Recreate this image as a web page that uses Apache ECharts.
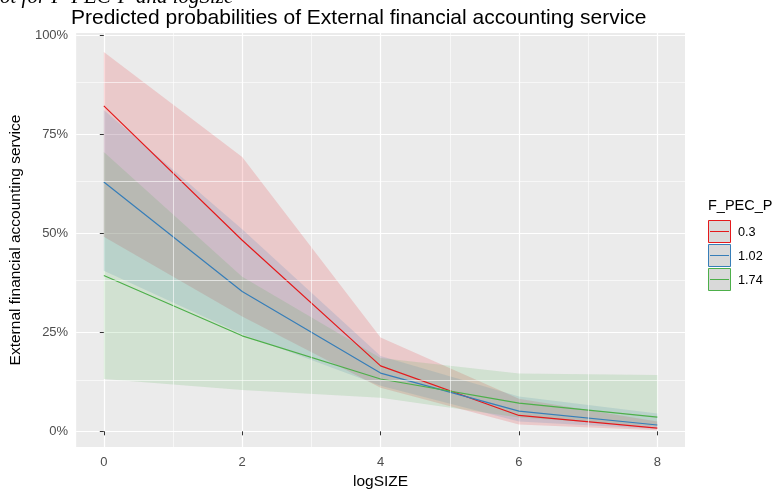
<!DOCTYPE html>
<html>
<head>
<meta charset="utf-8">
<script src="https://cdn.jsdelivr.net/npm/echarts@6/dist/echarts.min.js"></script>
<style>
html,body{margin:0;padding:0;background:#fff;overflow:hidden;}
#c{width:777px;height:495px;}
</style>
</head>
<body>
<div id="c"></div>
<script>
// ---- data ----
const logSIZE = [0, 2, 4, 6, 8];
const groups = ['0.3', '1.02', '1.74'];
const pred_03 = [0.821, 0.482, 0.165, 0.040, 0.008];
const low_03 = [0.491, 0.290, 0.110, 0.017, 0.003];
const high_03 = [0.957, 0.692, 0.237, 0.082, 0.025];
const pred_102 = [0.629, 0.353, 0.147, 0.051, 0.016];
const low_102 = [0.405, 0.245, 0.115, 0.025, 0.006];
const high_102 = [0.811, 0.510, 0.190, 0.088, 0.045];
const pred_174 = [0.393, 0.241, 0.132, 0.071, 0.036];
const low_174 = [0.132, 0.104, 0.085, 0.035, 0.012];
const high_174 = [0.705, 0.390, 0.185, 0.146, 0.142];
const yTicks = [0, 0.25, 0.5, 0.75, 1];
const yMinor = [0.125, 0.375, 0.625, 0.875];
const xTicks = [0, 2, 4, 6, 8];
const xMinor = [1, 3, 5, 7];

const preds = [pred_03, pred_102, pred_174];
const lows = [low_03, low_102, low_174];
const highs = [high_03, high_102, high_174];
const colors = ['#E41A1C', '#377EB8', '#4DAF4A'];
const fills = ['rgba(228,26,28,0.16)', 'rgba(55,126,184,0.16)', 'rgba(77,175,74,0.16)'];

const el = document.getElementById('c');
const chart = echarts.init(el, null, {renderer: 'canvas', width: 777, height: 495});
const FONT = 'Liberation Sans, Arial, sans-serif';

const series = [];
series.push({
  type: 'line', data: [], z: 1, silent: true,
  markLine: {
    silent: true, symbol: 'none', label: {show: false},
    lineStyle: {color: '#ffffff', width: 0.6, type: 'solid'},
    emphasis: {disabled: true},
    data: yMinor.map(v => ({yAxis: v})).concat(xMinor.map(v => ({xAxis: v})))
  }
});
groups.forEach((g, k) => {
  series.push({
    type: 'custom', name: g + ' ci', z: 2, silent: true,
    data: [[0, 0]], encode: {x: 0, y: 1},
    renderItem: function (params, api) {
      const pts = [];
      for (let i = 0; i < logSIZE.length; i++) pts.push(api.coord([logSIZE[i], highs[k][i]]));
      for (let i = logSIZE.length - 1; i >= 0; i--) pts.push(api.coord([logSIZE[i], lows[k][i]]));
      return {type: 'polygon', shape: {points: pts}, style: {fill: fills[k], stroke: null}};
    }
  });
});
groups.forEach((g, k) => {
  series.push({
    type: 'line', name: g, z: 3, silent: true, showSymbol: false, animation: false,
    data: logSIZE.map((x, i) => [x, preds[k][i]]),
    lineStyle: {color: colors[k], width: 1.2},
    itemStyle: {color: colors[k]}
  });
});

const lg = [];
lg.push({type: 'text', left: 708, top: 198, style: {text: 'F_PEC_P', font: '14.5px ' + FONT, fill: '#000'}});
groups.forEach((g, k) => {
  const y0 = 220 + k * 24;
  lg.push({type: 'rect', shape: {x: 708.5, y: y0 + 0.5, width: 22, height: 22}, style: {fill: '#D9D9D9', stroke: colors[k], lineWidth: 1}});
  lg.push({type: 'line', shape: {x1: 710, y1: y0 + 11.5, x2: 729, y2: y0 + 11.5}, style: {stroke: colors[k], lineWidth: 1}});
  lg.push({type: 'text', x: 738, y: y0 + 12, style: {text: g, font: '12.7px ' + FONT, fill: '#000', textVerticalAlign: 'middle'}});
});
lg.push({type: 'text', x: 0, y: 8, style: {text: 'ot for F-PEC-P and logSize', font: 'italic 21px Liberation Serif, Times New Roman, serif', fill: '#000', textVerticalAlign: 'bottom'}});

chart.setOption({
  animation: false,
  backgroundColor: '#ffffff',
  title: {
    text: 'Predicted probabilities of External financial accounting service',
    left: 66, top: 3,
    textStyle: {fontFamily: FONT, fontSize: 21, fontWeight: 'normal', color: '#000'}
  },
  grid: {left: 70, right: 92, top: 33, bottom: 42, show: true, backgroundColor: '#EBEBEB', borderWidth: 0},
  xAxis: {
    type: 'value', min: -0.4, max: 8.4,
    name: 'logSIZE', nameLocation: 'middle', nameGap: 26,
    nameTextStyle: {fontFamily: FONT, fontSize: 15.5, color: '#000'},
    axisLine: {show: false},
    axisTick: {show: true, length: 4, lineStyle: {color: '#333'}, customValues: xTicks},
    axisLabel: {customValues: xTicks, margin: 9, fontFamily: FONT, fontSize: 13, color: '#4D4D4D'},
    splitLine: {show: true, lineStyle: {color: '#fff', width: 1.2}}
  },
  yAxis: {
    type: 'value', min: -0.0398, max: 1.005,
    name: 'External financial accounting service', nameLocation: 'middle', nameGap: 42,
    nameTextStyle: {fontFamily: FONT, fontSize: 15.5, color: '#000'},
    axisLine: {show: false},
    axisTick: {show: true, length: 4, lineStyle: {color: '#333'}, customValues: yTicks},
    axisLabel: {customValues: yTicks, margin: 8, fontFamily: FONT, fontSize: 13, color: '#4D4D4D',
      formatter: v => Math.round(v * 100) + '%'},
    splitLine: {show: true, lineStyle: {color: '#fff', width: 1.2}}
  },
  graphic: lg,
  series: series
});
</script>
</body>
</html>
